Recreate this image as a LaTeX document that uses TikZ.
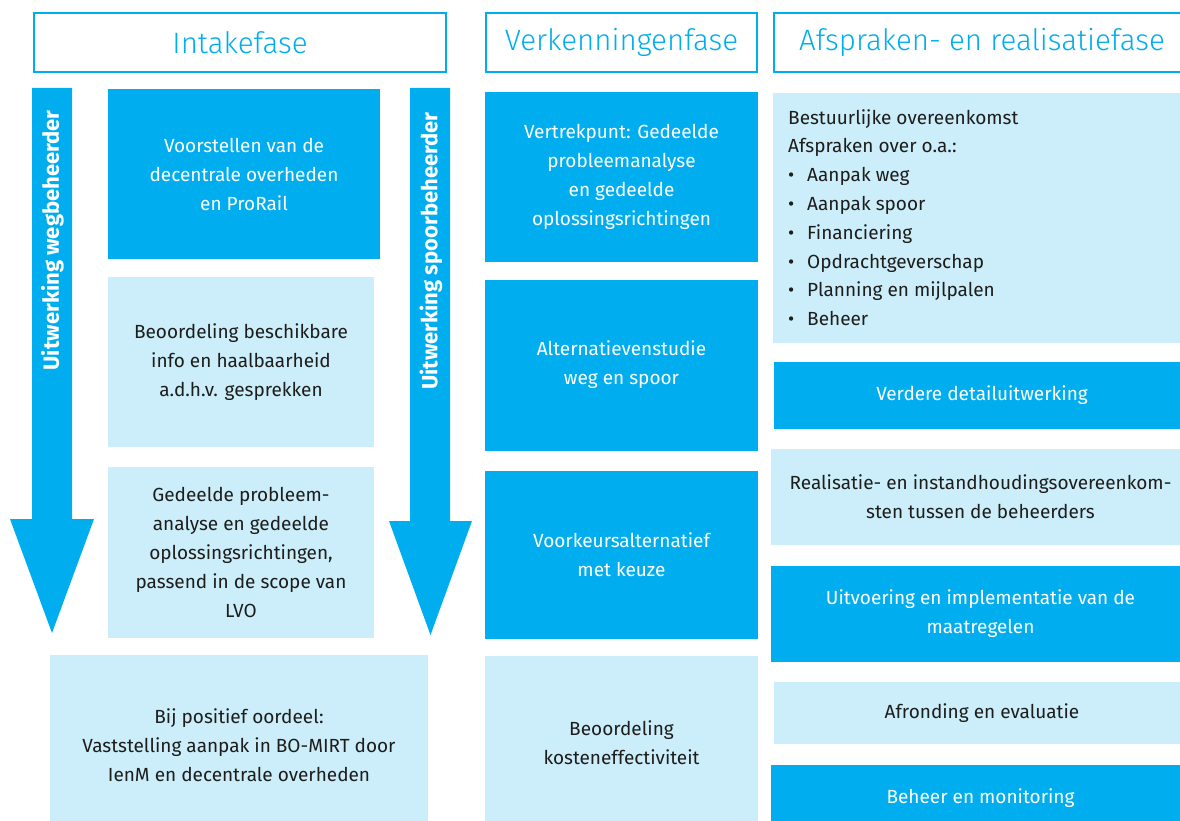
\documentclass[tikz,border=0pt]{standalone}
\usepackage{fontspec}
\setmainfont{Fira Sans}
\newfontfamily\headfont{Fira Sans Light}
\definecolor{rblue}{HTML}{00AEEF}
\definecolor{rlight}{HTML}{CCEEFA}
\definecolor{rtext}{HTML}{1D1D1B}
\begin{document}
\begin{tikzpicture}[x=1pt,y=-1pt,
  body/.style={font=\fontsize{19}{29}\selectfont, align=center, inner sep=0pt},
  dark/.style={body, fill=rblue, text=white},
  light/.style={body, fill=rlight, text=rtext},
  head/.style={draw=rblue, line width=2.5pt, fill=white, text=rblue, inner sep=0pt,
    font=\headfont\fontsize{29.5}{34}\selectfont},
  vlab/.style={text=white, rotate=90, anchor=east, inner sep=0pt,
    font=\bfseries\fontsize{22}{24}\selectfont},
  arrowfill/.style={fill=rblue}]
\useasboundingbox (0,0) rectangle (1180,821);
\clip (0,0) rectangle (1180,821);
% headers
\node[head, minimum width=412, minimum height=59] (h1) at (240,42.5) {Intakefase};
\node[head, minimum width=271, minimum height=59] (h2) at (621.5,42.5) {Verkenningenfase};
\node[head, minimum width=416, minimum height=59] (h3) at (982,42.5) {Afspraken- en realisatiefase};
% arrows
\fill[arrowfill] (32,88) -- (72,88) -- (72,519) -- (94,519) -- (52,633) -- (10,519) -- (32,519) -- cycle;
\fill[arrowfill] (410,88) -- (450,88) -- (450,521) -- (472,521) -- (430.5,635) -- (389,521) -- (410,521) -- cycle;
\node[vlab] (weg) at (52.5,110) {Uitwerking wegbeheerder};
\node[vlab] (spoor) at (431,112) {Uitwerking spoorbeheerder};
% intake column
\node[dark, minimum width=272, minimum height=170] (i1) at (244,174) {Voorstellen van de\\decentrale overheden\\en ProRail};
\node[light, minimum width=266, minimum height=170] (i2) at (241,362) {Beoordeling beschikbare\\info en haalbaarheid\\a.d.h.v. gesprekken};
\node[light, minimum width=266, minimum height=171] (i3) at (241,552) {Gedeelde probleem-\\analyse en gedeelde\\oplossingsrichtingen,\\passend in de scope van\\LVO};
\node[light, minimum width=378, minimum height=180] (i4) at (239,745) {Bij positief oordeel:\\Vaststelling aanpak in BO-MIRT door\\IenM en decentrale overheden};
% verkenning column
\node[dark, minimum width=273, minimum height=170] (v1) at (621.5,177) {Vertrekpunt: Gedeelde\\probleemanalyse\\en gedeelde\\oplossingsrichtingen};
\node[dark, minimum width=273, minimum height=171] (v2) at (621.5,365) {Alternatievenstudie\\weg en spoor};
\node[dark, minimum width=273, minimum height=168] (v3) at (621.5,555) {Voorkeursalternatief\\met keuze};
\node[light, minimum width=273, minimum height=174] (v4) at (621.5,743) {Beoordeling\\kosteneffectiviteit};
% afspraken column
\node[fill=rlight, minimum width=417, minimum height=250, inner sep=0pt] (a1) at (981.5,218) {};
\node[body, text=rtext, align=left, anchor=north west, font=\fontsize{19}{28.8}\selectfont] (a1t) at (788,109)
  {Bestuurlijke overeenkomst\\Afspraken over o.a.:\\
   \makebox[19pt][l]{\textbullet}Aanpak weg\\
   \makebox[19pt][l]{\textbullet}Aanpak spoor\\
   \makebox[19pt][l]{\textbullet}Financiering\\
   \makebox[19pt][l]{\textbullet}Opdrachtgeverschap\\
   \makebox[19pt][l]{\textbullet}Planning en mijlpalen\\
   \makebox[19pt][l]{\textbullet}Beheer};
\node[dark, minimum width=416, minimum height=67] (a2) at (982,395) {Verdere detailuitwerking};
\node[light, minimum width=419, minimum height=96] (a3) at (980.5,497) {Realisatie- en instandhoudingsovereenkom-\\sten tussen de beheerders};
\node[dark, minimum width=419, minimum height=96] (a4) at (980.5,614) {Uitvoering en implementatie van de\\maatregelen};
\node[light, minimum width=416, minimum height=62] (a5) at (982,713) {Afronding en evaluatie};
\node[dark, minimum width=419, minimum height=66] (a6) at (980.5,798) {Beheer en monitoring};
\end{tikzpicture}
\end{document}
